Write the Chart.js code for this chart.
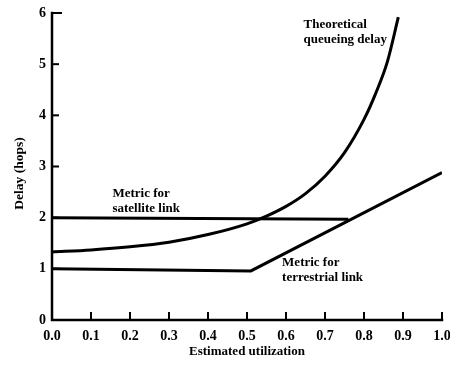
<!DOCTYPE html>
<html>
<head>
<meta charset="utf-8">
<script src="https://cdn.jsdelivr.net/npm/chart.js@4/dist/chart.umd.min.js"></script>
<style>
html,body{margin:0;padding:0;background:#fff;}
#wrap{width:450px;height:365px;position:relative;}
</style>
</head>
<body>
<div id="wrap"><canvas id="c" width="450" height="365"></canvas></div>
<script>
// Data
const queueU     = [0.0, 0.1, 0.2, 0.3, 0.4, 0.5, 0.55, 0.6, 0.65, 0.7, 0.75, 0.8, 0.83, 0.86, 0.888];
const queueDelay = [1.33, 1.37, 1.43, 1.52, 1.67, 1.88, 2.03, 2.22, 2.47, 2.81, 3.27, 3.92, 4.43, 5.05, 5.92];
const satU       = [0.0, 0.76];
const satDelay   = [2.0, 1.97];
const terrU      = [0.0, 0.51, 1.0];
const terrDelay  = [1.0, 0.96, 2.88];
const xTicks = [0.0, 0.1, 0.2, 0.3, 0.4, 0.5, 0.6, 0.7, 0.8, 0.9, 1.0];
const yTicks = [0, 1, 2, 3, 4, 5, 6];
const labels = [
  {u: 0.645, d: 5.78, lines: ["Theoretical", "queueing delay"]},
  {u: 0.155, d: 2.47, lines: ["Metric for", "satellite link"]},
  {u: 0.59,  d: 1.12, lines: ["Metric for", "terrestrial link"]}
];
const xTitle = "Estimated utilization";
const yTitle = "Delay (hops)";

const toPts = (xs, ys) => xs.map((x, i) => ({x: x, y: ys[i]}));
const FONT = '"Liberation Serif", "DejaVu Serif", serif';

const deco = {
  id: 'deco',
  afterDraw(chart) {
    const ctx = chart.ctx, xs = chart.scales.x, ys = chart.scales.y, a = chart.chartArea;
    ctx.save();
    ctx.strokeStyle = '#000';
    ctx.lineWidth = 2.5;
    ctx.lineCap = 'square';
    // axes
    ctx.beginPath();
    ctx.moveTo(a.left, ys.getPixelForValue(6));
    ctx.lineTo(a.left, a.bottom);
    ctx.lineTo(xs.getPixelForValue(1.0), a.bottom);
    ctx.stroke();
    ctx.lineWidth = 2;
    ctx.lineCap = 'butt';
    // x ticks (inside)
    xTicks.forEach(v => {
      if (v === 0) return;
      const px = xs.getPixelForValue(v);
      ctx.beginPath(); ctx.moveTo(px, a.bottom); ctx.lineTo(px, a.bottom - 8); ctx.stroke();
    });
    yTicks.forEach(v => {
      if (v === 0) return;
      const py = ys.getPixelForValue(v);
      ctx.beginPath(); ctx.moveTo(a.left, py); ctx.lineTo(a.left + (v === 6 ? 10 : 7), py); ctx.stroke();
    });
    // tick labels
    ctx.fillStyle = '#000';
    ctx.font = 'bold 14px ' + FONT;
    ctx.textAlign = 'center'; ctx.textBaseline = 'middle';
    xTicks.forEach(v => ctx.fillText(v.toFixed(1), xs.getPixelForValue(v), a.bottom + 16));
    ctx.textAlign = 'right';
    yTicks.forEach(v => ctx.fillText(String(v), a.left - 6, ys.getPixelForValue(v)));
    // axis titles
    ctx.font = 'bold 13px ' + FONT;
    ctx.textAlign = 'center';
    ctx.fillText(xTitle, (a.left + a.right) / 2, 352);
    ctx.save();
    ctx.translate(20, (a.top + a.bottom) / 2 + 7);
    ctx.rotate(-Math.PI / 2);
    ctx.font = 'bold 13.5px ' + FONT;
    ctx.fillText(yTitle, 0, 0);
    ctx.restore();
    // annotations
    ctx.font = 'bold 13px ' + FONT;
    ctx.textAlign = 'left'; ctx.textBaseline = 'middle';
    labels.forEach(l => {
      const px = xs.getPixelForValue(l.u), py = ys.getPixelForValue(l.d);
      l.lines.forEach((t, i) => ctx.fillText(t, px, py + i * 15));
    });
    ctx.restore();
  }
};

const ds = (data, smooth) => ({
  data: data, showLine: true, borderColor: '#000', borderWidth: 3,
  pointRadius: 0, fill: false, tension: 0,
  cubicInterpolationMode: smooth ? 'monotone' : 'default'
});

new Chart(document.getElementById('c'), {
  type: 'scatter',
  data: {
    datasets: [
      ds(toPts(queueU, queueDelay), true),
      ds(toPts(satU, satDelay), false),
      ds(toPts(terrU, terrDelay), false)
    ]
  },
  options: {
    responsive: false,
    animation: false,
    layout: {padding: {top: 13, right: 8, left: 0, bottom: 0}},
    plugins: {legend: {display: false}, tooltip: {enabled: false}},
    scales: {
      x: {
        type: 'linear', min: 0, max: 1.0,
        grid: {display: false}, border: {display: false},
        ticks: {display: false},
        afterFit(s) { s.height = 45; }
      },
      y: {
        type: 'linear', min: 0, max: 6,
        grid: {display: false}, border: {display: false},
        ticks: {display: false},
        afterFit(s) { s.width = 52; }
      }
    }
  },
  plugins: [deco]
});
</script>
</body>
</html>
